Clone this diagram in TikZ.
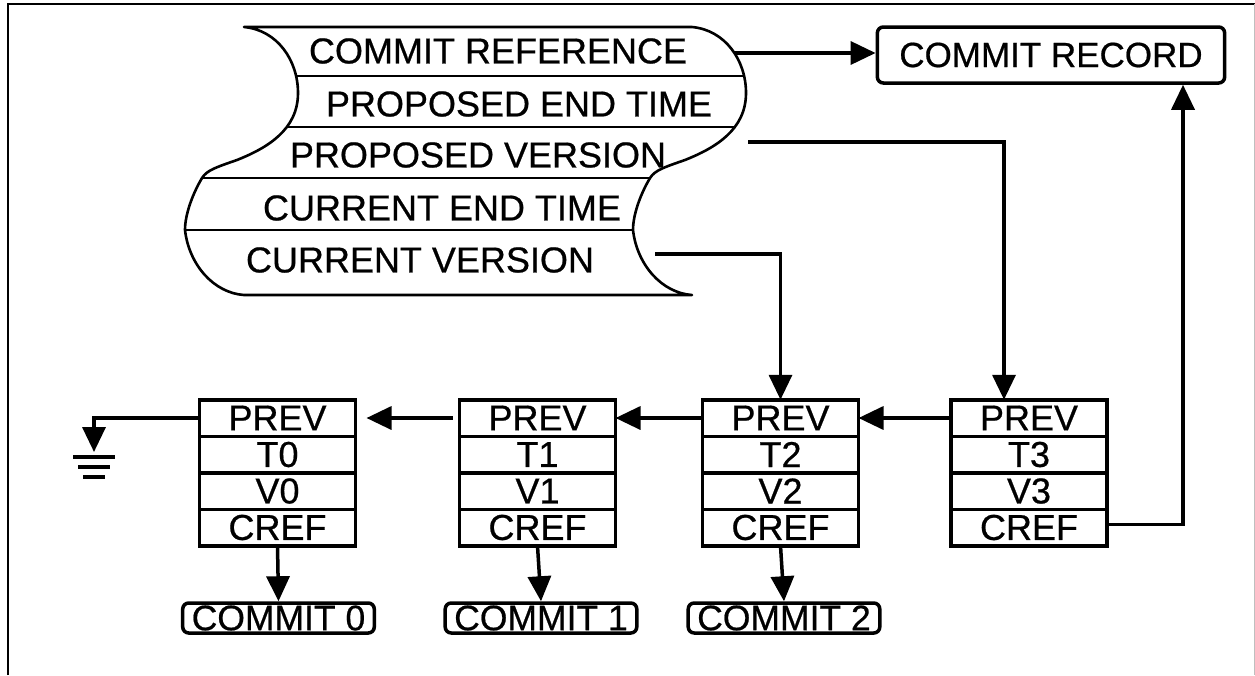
\documentclass[tikz,border=0pt]{standalone}
\usepackage{fontspec}
\setmainfont{Liberation Sans}
\newfontfamily\labelfont[FakeBold=0.6]{Liberation Sans}
\usetikzlibrary{arrows.meta,positioning}

\newcommand{\scrollpath}{(244,27) -- (692,27) .. controls (725,30) and (746,60) .. (746,93)
 .. controls (746,130) and (715,148) .. (685,160) .. controls (665,167) and (655,170) .. (650,178)
 .. controls (640,195) and (633,215) .. (633,230) .. controls (637,265) and (662,293) .. (692,295)
 -- (244,295) .. controls (214,293) and (189,265) .. (185,230) .. controls (185,215) and (192,195) .. (202,178)
 .. controls (207,170) and (217,167) .. (237,160) .. controls (267,148) and (298,130) .. (298,93)
 .. controls (298,60) and (277,30) .. (244,27) -- cycle}

\begin{document}
\begin{tikzpicture}[x=1pt, y=-1pt,
  txt/.style={font=\labelfont\fontsize{36}{40}\selectfont, inner sep=0pt},
  cell/.style={draw, line width=3.5pt, outer sep=0pt, inner sep=0pt, minimum width=156pt, minimum height=36.5pt, font=\labelfont\fontsize{36}{40}\selectfont},
  commit/.style={draw, line width=3.5pt, rounded corners=6pt, inner xsep=9pt, inner ysep=2pt, minimum height=30pt, font=\labelfont\fontsize{35.5}{40}\selectfont},
  arr/.style={line width=3.5pt, -{Triangle[length=25pt,width=23pt]}}]

\useasboundingbox (0,0) rectangle (1255,675);
\draw[line width=2pt] (8,675) -- (8,3.5) -- (1255,3.5);
\draw[black!25, line width=1pt] (1254.5,3.5) -- (1254.5,675);

\begin{scope}
\clip \scrollpath;
\foreach \ry in {76,127,178,230} \draw[line width=2.6pt] (150,\ry) -- (800,\ry);
\end{scope}
\draw[line width=2.6pt, line join=round] \scrollpath;

\node[txt] (crefrow) at (498,51) {COMMIT REFERENCE};
\node[txt] (pendrow) at (519,104) {PROPOSED END TIME};
\node[txt] (pverrow) at (478,155) {PROPOSED VERSION};
\node[txt] (cendrow) at (442,208) {CURRENT END TIME};
\node[txt] (cverrow) at (420,260) {CURRENT VERSION};

\node[commit, minimum height=56pt, inner xsep=22pt, font=\labelfont\fontsize{35}{40}\selectfont] (rec) at (1051,55) {COMMIT RECORD};

\node[cell] (p0) at (277.5,418) {PREV};
\node[cell, below=0pt of p0] (t0) {T0};
\node[cell, below=0pt of t0] (v0) {V0};
\node[cell, below=0pt of v0] (f0) {CREF};

\node[cell] (p1) at (537.5,418) {PREV};
\node[cell, below=0pt of p1] (t1) {T1};
\node[cell, below=0pt of t1] (v1) {V1};
\node[cell, below=0pt of v1] (f1) {CREF};

\node[cell] (p2) at (780.5,418) {PREV};
\node[cell, below=0pt of p2] (t2) {T2};
\node[cell, below=0pt of t2] (v2) {V2};
\node[cell, below=0pt of v2] (f2) {CREF};

\node[cell] (p3) at (1029,418) {PREV};
\node[cell, below=0pt of p3] (t3) {T3};
\node[cell, below=0pt of t3] (v3) {V3};
\node[cell, below=0pt of v3] (f3) {CREF};

\node[commit] (c0) at (278.5,618) {COMMIT 0};
\node[commit] (c1) at (541,618) {COMMIT 1};
\node[commit] (c2) at (784,618) {COMMIT 2};

\coordinate (crefout) at (735,53);
\coordinate (pverout) at (748,142);
\coordinate (cverout) at (655,254);
\coordinate (gnd) at (94,452);

\draw[arr] (crefout) -- (crefout -| rec.west);
\draw[arr] (pverout) -| ([xshift=-25pt]p3.north);
\draw[arr] (cverout) -| (p2.north);
\draw[arr] ([yshift=3pt]f3.east) -| ([xshift=132pt]rec.south);

\draw[arr] (p3.west) -- (p2.east);
\draw[arr] (p2.west) -- (p1.east);
\draw[arr, shorten <=7pt, shorten >=11pt] (p1.west) -- (p0.east);
\draw[arr] (p0.west) -| (gnd);
\draw[line width=3.5pt] (73,457) -- (115,457) (78,467) -- (110,467) (83,477) -- (105,477);

\draw[arr] (f0.south) -- (c0.north);
\draw[arr] (f1.south) -- (c1.north);
\draw[arr] (f2.south) -- (c2.north);

\end{tikzpicture}
\end{document}
